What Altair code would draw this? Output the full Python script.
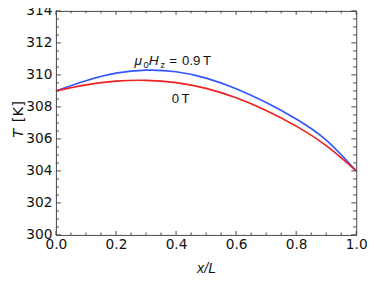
import altair as alt
import pandas as pd

# ---- data ----
x_vals = [0.0, 0.1, 0.2, 0.3, 0.4, 0.5, 0.6, 0.7, 0.8, 0.9, 1.0]
T_09T = [309.0, 309.64, 310.11, 310.30, 310.20, 309.80, 309.14, 308.28, 307.25, 305.93, 304.0]
T_0T = [309.0, 309.38, 309.61, 309.66, 309.52, 309.16, 308.57, 307.78, 306.80, 305.58, 304.0]
series_names = ["0.9 T", "0 T"]
series_colors = ["#3356ff", "#ee2020"]

x_major = [0.0, 0.2, 0.4, 0.6, 0.8, 1.0]
x_minor = [v / 20 for v in range(21) if v % 4 != 0]
y_major = [300, 302, 304, 306, 308, 310, 312, 314]
y_minor = [300 + v / 2 for v in range(29) if v % 4 != 0]

W, H = 307, 229

rows = []
for name, ys in zip(series_names, [T_09T, T_0T]):
    for xv, yv in zip(x_vals, ys):
        rows.append({"x": xv, "T": yv, "series": name})
df = pd.DataFrame(rows)

xs = alt.Scale(domain=[0, 1], nice=False, zero=False)
ys_ = alt.Scale(domain=[300, 314], nice=False, zero=False)
x_axis = alt.Axis(values=x_major, format=".1f", title="x/L", labelFlush=False,
                  labelOverlap=False, labelPadding=3, titleFontStyle="italic",
                  titleFont="Liberation Sans", titleFontSize=14.5,
                  titleFontWeight="normal", titlePadding=10)
y_axis = alt.Axis(values=y_major, format="d", title=None, labelFlush=False,
                  labelOverlap=False, labelPadding=4)


def X(field):
    return alt.X(field, type="quantitative", scale=xs, axis=x_axis)


def Y(field):
    return alt.Y(field, type="quantitative", scale=ys_, axis=y_axis)


lines = alt.Chart(df).mark_line(strokeWidth=1.7, interpolate="natural").encode(
    x=X("x"), y=Y("T"),
    color=alt.Color("series:N", scale=alt.Scale(domain=series_names, range=series_colors),
                    legend=None),
)


def yticks(vals, length):
    d = pd.DataFrame({"x": [0.0] * len(vals), "T": vals})
    left = alt.Chart(d).mark_rule(color="#444", strokeWidth=1).encode(
        y=Y("T"), x=alt.value(0), x2=alt.value(length))
    right = alt.Chart(d).mark_rule(color="#444", strokeWidth=1).encode(
        y=Y("T"), x=alt.value(W), x2=alt.value(W - length))
    return [left, right]


def xticks(vals, length):
    d = pd.DataFrame({"x": vals})
    bottom = alt.Chart(d).mark_rule(color="#444", strokeWidth=1).encode(
        x=X("x"), y=alt.value(H), y2=alt.value(H - length))
    top = alt.Chart(d).mark_rule(color="#444", strokeWidth=1).encode(
        x=X("x"), y=alt.value(0), y2=alt.value(length))
    return [bottom, top]


tick_layers = yticks(y_major, 5) + yticks(y_minor, 3) + xticks(x_major, 4) + xticks(x_minor, 2.5)

# annotation pieces: text, dx, dy, size, style
ann1_pieces = [("μ", 0, 0, 14, "italic"), ("0", 9.0, 2.5, 9.5, "normal"),
               ("H", 14.5, 0, 14, "italic"), ("z", 26.5, 2.5, 9.5, "normal"),
               ("=", 35.5, 0, 13.5, "normal"), ("0.9", 48.5, 0, 13.5, "normal"),
               ("T", 70.0, 0, 13.5, "normal")]
ann1_pos = {"x": 0.262, "T": 310.61}
ann2_pieces = [("0", 0, 0, 13.5, "normal"), ("T", 9.8, 0, 13.5, "normal")]
ann2_pos = {"x": 0.386, "T": 308.26}

ann_layers = []
for pieces, pos in [(ann1_pieces, ann1_pos), (ann2_pieces, ann2_pos)]:
    for txt, dx, dy, size, style in pieces:
        ann_layers.append(
            alt.Chart(pd.DataFrame([pos])).mark_text(
                text=txt, align="left", baseline="alphabetic", dx=dx, dy=dy,
                fontSize=size, fontStyle=style, font="Liberation Sans", color="#111"
            ).encode(x=X("x"), y=Y("T"))
        )

# rotated y-axis title "T [K]" (T italic)
ytitle_T = alt.Chart(pd.DataFrame({"a": [0]})).mark_text(
    text="T", angle=270, align="center", baseline="alphabetic", fontSize=15,
    fontStyle="italic", font="DejaVu Sans", color="#111"
).encode(x=alt.value(-34), y=alt.value(125))
ytitle_K = alt.Chart(pd.DataFrame({"a": [0]})).mark_text(
    text="[K]", angle=270, align="center", baseline="alphabetic", fontSize=15,
    font="DejaVu Sans", color="#111"
).encode(x=alt.value(-34), y=alt.value(103))

chart = alt.layer(lines, *tick_layers, *ann_layers, ytitle_T, ytitle_K).properties(
    width=W, height=H,
    autosize=alt.AutoSizeParams(type="none"),
    padding={"left": 49, "top": 0, "right": 11, "bottom": 38},
).configure_view(stroke="#444", strokeWidth=1).configure_axis(
    domain=False, ticks=False, grid=False, labelFont="DejaVu Sans", labelFontSize=14,
    labelColor="#111", titleColor="#111",
)

chart.save("out.html", embed_options={"renderer": "svg", "actions": False})
